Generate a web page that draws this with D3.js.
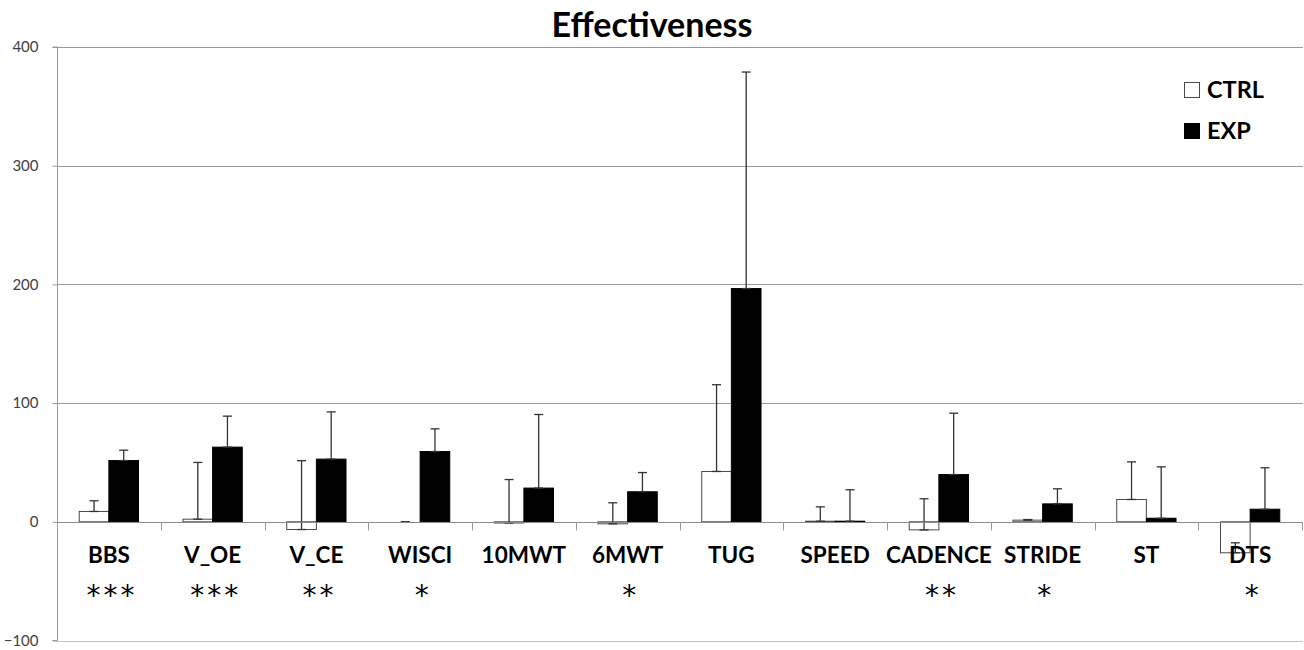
<!DOCTYPE html>
<html>
<head>
<meta charset="utf-8">
<script src="https://cdn.jsdelivr.net/npm/d3@7"></script>
<style>
  html, body { margin: 0; padding: 0; background: #fff; }
  svg { display: block; }
</style>
</head>
<body>
<svg id="chart" width="1304" height="650"></svg>
<script>
// Outcome measures and group statistics (mean change, % and positive SD)
const categories = ["BBS", "V_OE", "V_CE", "WISCI", "10MWT", "6MWT", "TUG", "SPEED", "CADENCE", "STRIDE", "ST", "DTS"];
const ctrlMean = [8.7, 2.2, -6.5, 0, -1, -1.7, 42.4, 0.5, -6.8, 1.4, 18.8, -26.1];
const ctrlErr  = [9, 47.8, 58, 0, 36.6, 17.7, 73.1, 12.1, 26.2, 0.5, 31.7, 8.4];
const expMean  = [51.6, 62.9, 52.8, 59.2, 28.4, 25.3, 196.5, 0.5, 39.8, 15.1, 3, 10.6];
const expErr   = [8.7, 26.1, 39.8, 19.1, 62, 16.2, 182.4, 26.5, 51.7, 12.7, 43.3, 34.9];
const significance = ["***", "***", "**", "*", "", "*", "", "", "**", "*", "", "*"];
const groups = ["CTRL", "EXP"];
const yTicks = [-100, 0, 100, 200, 300, 400];

const svg = d3.select("#chart");
const plotLeft = 57, plotRight = 1302, plotTop = 47, plotBottom = 640.5;

const y = d3.scaleLinear().domain([-100, 400]).range([plotBottom, plotTop]);
const x0 = d3.scaleBand().domain(categories).range([plotLeft, plotRight]).padding(0);
const bw = x0.bandwidth();
// bars sized like a 150% gap width
const x1 = d3.scaleBand().domain(groups).range([bw * 0.75 / 3.5, bw * 2.75 / 3.5]).padding(0);

const rows = categories.map((c, i) => ({
  cat: c,
  sig: significance[i],
  vals: [
    { g: "CTRL", v: ctrlMean[i], e: ctrlErr[i] },
    { g: "EXP", v: expMean[i], e: expErr[i] }
  ]
}));

// Gridlines
svg.append("g")
  .selectAll("line")
  .data(yTicks.filter(t => t !== 0))
  .join("line")
  .attr("x1", plotLeft).attr("x2", plotRight + 1)
  .attr("y1", d => Math.round(y(d)) + 0.5).attr("y2", d => Math.round(y(d)) + 0.5)
  .attr("stroke", d => d === -100 ? "#c4c4c4" : "#9a9a9a")
  .attr("stroke-width", 1);

// Y axis
const yAxis = d3.axisLeft(y).tickValues(yTicks).tickSize(5).tickPadding(14);
const gy = svg.append("g").attr("transform", `translate(${plotLeft + 0.5},0)`).call(yAxis);
gy.select(".domain").attr("stroke", "#9a9a9a").attr("d", `M-5,${y(400)}H0V${y(-100)}H-5`);
gy.selectAll(".tick line").attr("stroke", "#9a9a9a");
gy.selectAll(".tick text")
  .attr("font-family", "Lato, 'Noto Sans', sans-serif")
  .attr("font-size", 15)
  .attr("fill", "#404040");

// Bars
const grp = svg.append("g").selectAll("g")
  .data(rows)
  .join("g")
  .attr("transform", d => `translate(${x0(d.cat)},0)`);

grp.selectAll("rect")
  .data(d => d.vals)
  .join("rect")
  .attr("x", d => x1(d.g))
  .attr("width", x1.bandwidth())
  .attr("y", d => y(Math.max(0, d.v)))
  .attr("height", d => Math.abs(y(d.v) - y(0)))
  .attr("fill", d => d.g === "CTRL" ? "#fff" : "#000")
  .attr("stroke", d => d.g === "CTRL" ? "#4a4a4a" : "#000")
  .attr("stroke-width", 1);

// Category axis at zero
const gx = svg.append("g").attr("transform", `translate(0,${Math.round(y(0)) + 0.5})`);
gx.append("line").attr("x1", plotLeft).attr("x2", plotRight + 1).attr("stroke", "#8a8a8a");
gx.selectAll("line.tk")
  .data(categories)
  .join("line")
  .attr("class", "tk")
  .attr("x1", d => Math.round(x0(d) + bw) + 0.5)
  .attr("x2", d => Math.round(x0(d) + bw) + 0.5)
  .attr("y1", 0).attr("y2", 8)
  .attr("stroke", "#9a9a9a");

// Error bars (plus direction, capped at both ends)
const cap = 4.5;
const eb = grp.selectAll("g.err")
  .data(d => d.vals)
  .join("g")
  .attr("class", "err")
  .attr("stroke", "#333")
  .attr("stroke-width", 1.3);
eb.append("line")
  .attr("x1", d => x1(d.g) + x1.bandwidth() / 2)
  .attr("x2", d => x1(d.g) + x1.bandwidth() / 2)
  .attr("y1", d => y(d.v)).attr("y2", d => y(d.v + d.e));
eb.append("line")
  .attr("x1", d => x1(d.g) + x1.bandwidth() / 2 - cap)
  .attr("x2", d => x1(d.g) + x1.bandwidth() / 2 + cap)
  .attr("y1", d => y(d.v + d.e)).attr("y2", d => y(d.v + d.e));
eb.append("line")
  .attr("x1", d => x1(d.g) + x1.bandwidth() / 2 - cap)
  .attr("x2", d => x1(d.g) + x1.bandwidth() / 2 + cap)
  .attr("y1", d => y(d.v)).attr("y2", d => y(d.v));

// Category labels and significance marks
grp.append("text")
  .attr("x", bw / 2)
  .attr("y", 563)
  .attr("text-anchor", "middle")
  .attr("font-family", "Lato, 'Noto Sans', sans-serif")
  .attr("font-weight", "bold")
  .attr("font-size", 22.5)
  .attr("fill", "#000")
  .text(d => d.cat);

grp.append("text")
  .attr("x", bw / 2 + 3)
  .attr("y", 605)
  .attr("text-anchor", "middle")
  .attr("font-family", "'DejaVu Sans', sans-serif")
  .attr("font-size", 28)
  .attr("letter-spacing", 3)
  .attr("fill", "#000")
  .text(d => d.sig);

// Title
svg.append("text")
  .attr("x", 652).attr("y", 37)
  .attr("text-anchor", "middle")
  .attr("font-family", "Lato, 'Noto Sans', sans-serif")
  .attr("font-weight", "bold")
  .attr("font-size", 34)
  .attr("fill", "#000")
  .text("Effectiveness");

// Legend
const legend = svg.append("g").selectAll("g")
  .data(groups)
  .join("g")
  .attr("transform", (d, i) => `translate(1184,${82 + i * 41})`);
legend.append("rect")
  .attr("x", 0.5).attr("y", 0.5)
  .attr("width", 15).attr("height", 15)
  .attr("fill", d => d === "CTRL" ? "#fff" : "#000")
  .attr("stroke", d => d === "CTRL" ? "#4a4a4a" : "#000");
legend.append("text")
  .attr("x", 23).attr("y", 16)
  .attr("font-family", "Lato, 'Noto Sans', sans-serif")
  .attr("font-weight", "bold")
  .attr("font-size", 23.5)
  .attr("fill", "#000")
  .text(d => d);
</script>
</body>
</html>
